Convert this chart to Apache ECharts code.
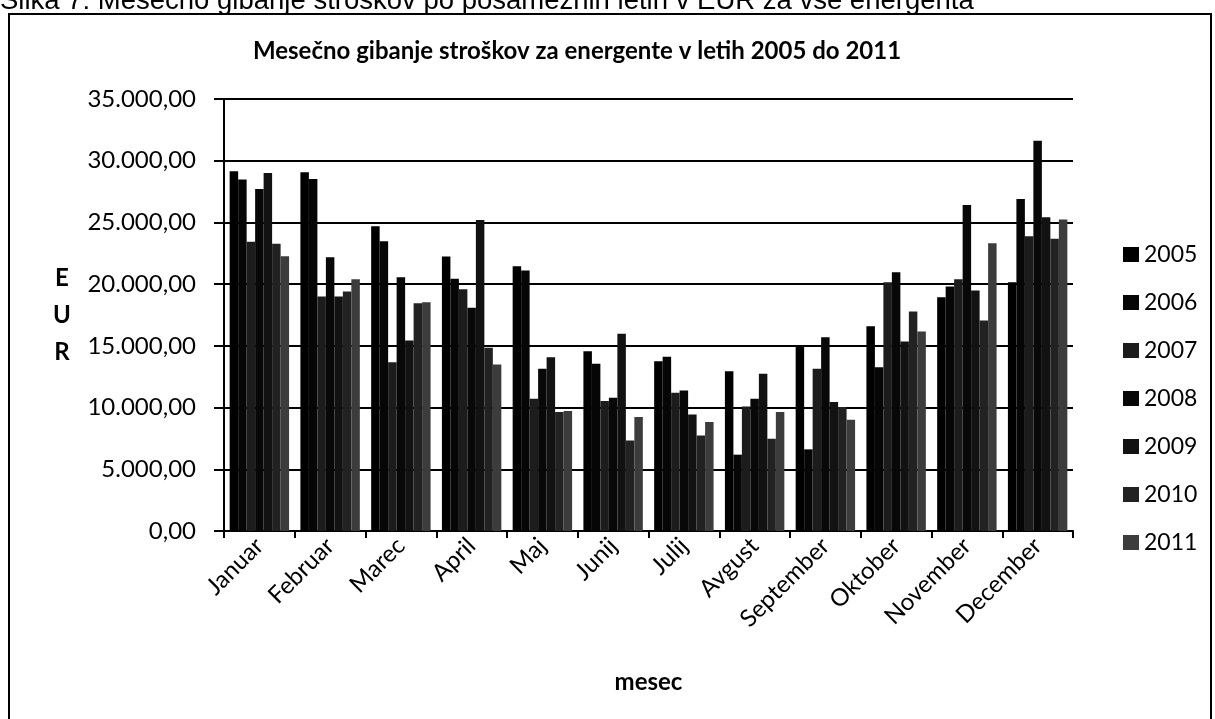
<!DOCTYPE html>
<html>
<head>
<meta charset="utf-8">
<script src="https://cdn.jsdelivr.net/npm/echarts@6/dist/echarts.min.js"></script>
<style>
  html, body { margin: 0; padding: 0; background: #fff; }
  #chart { width: 1215px; height: 719px; }
</style>
</head>
<body>
<div id="chart"></div>
<script>
// Monthly energy costs (EUR), one array per year
const months = ['Januar', 'Februar', 'Marec', 'April', 'Maj', 'Junij', 'Julij', 'Avgust', 'September', 'Oktober', 'November', 'December'];
const years = ['2005', '2006', '2007', '2008', '2009', '2010', '2011'];
const cost2005 = [29140, 29060, 24690, 22240, 21450, 14570, 13760, 12950, 14975, 16595, 18940, 20155];
const cost2006 = [28470, 28525, 23475, 20430, 21100, 13550, 14115, 6185, 6615, 13275, 19810, 26905];
const cost2007 = [23425, 19000, 13680, 19590, 10715, 10525, 11200, 10095, 13145, 20155, 20400, 23880];
const cost2008 = [27715, 22180, 20560, 18080, 13145, 10800, 11390, 10715, 15705, 20965, 26420, 31625];
const cost2009 = [29010, 19000, 15440, 25205, 14085, 15980, 9445, 12740, 10445, 15355, 19485, 25420];
const cost2010 = [23263, 19400, 18460, 14845, 9635, 7340, 7745, 7480, 10040, 17785, 17055, 23670];
const cost2011 = [22260, 20400, 18540, 13495, 9715, 9230, 8825, 9635, 9015, 16165, 23315, 25230];
const yTicks = [0, 5000, 10000, 15000, 20000, 25000, 30000, 35000];

const costsByYear = [cost2005, cost2006, cost2007, cost2008, cost2009, cost2010, cost2011];
const palette = ['#000000', '#060606', '#1c1c1c', '#080808', '#121212', '#222222', '#3c3c3c'];

const FONT = 'Lato, "Open Sans", sans-serif';

// 35000 -> "35.000,00"
function fmtEur(v) {
  const s = Math.round(v).toString().replace(/\B(?=(\d{3})+(?!\d))/g, '.');
  return s + ',00';
}

const chart = echarts.init(document.getElementById('chart'), null, { renderer: 'canvas' });

chart.setOption({
  backgroundColor: '#ffffff',
  animation: false,
  color: palette,
  title: {
    text: 'Mesečno gibanje stroškov za energente v letih 2005 do 2011',
    left: 572,
    top: 34,
    textAlign: 'center',
    textStyle: { fontFamily: FONT, fontSize: 24, fontWeight: 'bold', color: '#000' }
  },
  legend: {
    orient: 'vertical',
    left: 1118,
    top: 237,
    data: years,
    icon: 'rect',
    itemWidth: 16,
    itemHeight: 15,
    itemGap: 23,
    textStyle: { fontFamily: FONT, fontSize: 23, color: '#000', lineHeight: 25 }
  },
  grid: { left: 224, right: 142, top: 99, bottom: 188, containLabel: false },
  xAxis: {
    type: 'category',
    data: months,
    name: 'mesec',
    nameLocation: 'middle',
    nameGap: 139,
    nameTextStyle: { fontFamily: FONT, fontSize: 24, fontWeight: 'bold', color: '#000' },
    axisLine: { lineStyle: { color: '#000', width: 2 } },
    axisTick: { show: true, length: 7, lineStyle: { color: '#000', width: 2 } },
    axisLabel: { rotate: 45, margin: 11, fontFamily: FONT, fontSize: 24, color: '#000' }
  },
  yAxis: {
    type: 'value',
    min: yTicks[0],
    max: yTicks[yTicks.length - 1],
    interval: yTicks[1] - yTicks[0],
    name: 'E\nU\nR',
    nameLocation: 'middle',
    nameRotate: 0,
    nameGap: 162,
    nameTextStyle: { fontFamily: FONT, fontSize: 24, fontWeight: 'bold', color: '#000', lineHeight: 37, align: 'center' },
    axisLine: { show: true, lineStyle: { color: '#000', width: 2 } },
    axisTick: { show: true, length: 10, lineStyle: { color: '#000', width: 2 } },
    splitLine: { lineStyle: { color: '#000', width: 2 } },
    axisLabel: { margin: 28, fontFamily: FONT, fontSize: 24, color: '#000', formatter: fmtEur }
  },
  series: years.map((y, i) => ({
    name: y,
    type: 'bar',
    data: costsByYear[i],
    barGap: '0%',
    barCategoryGap: '16%',
    itemStyle: { color: palette[i] }
  })),
  graphic: [
    {
      type: 'rect',
      shape: { x: 9, y: 14, width: 1202, height: 730 },
      style: { fill: 'none', stroke: '#000', lineWidth: 2 },
      silent: true
    },
    {
      type: 'text',
      left: 0,
      top: -13,
      style: {
        text: 'Slika 7: Mesečno gibanje stroškov po posameznih letih v EUR za vse energenta',
        font: '27.5px "Liberation Sans", Arial, sans-serif',
        fill: '#000'
      },
      silent: true
    }
  ]
});
</script>
</body>
</html>
